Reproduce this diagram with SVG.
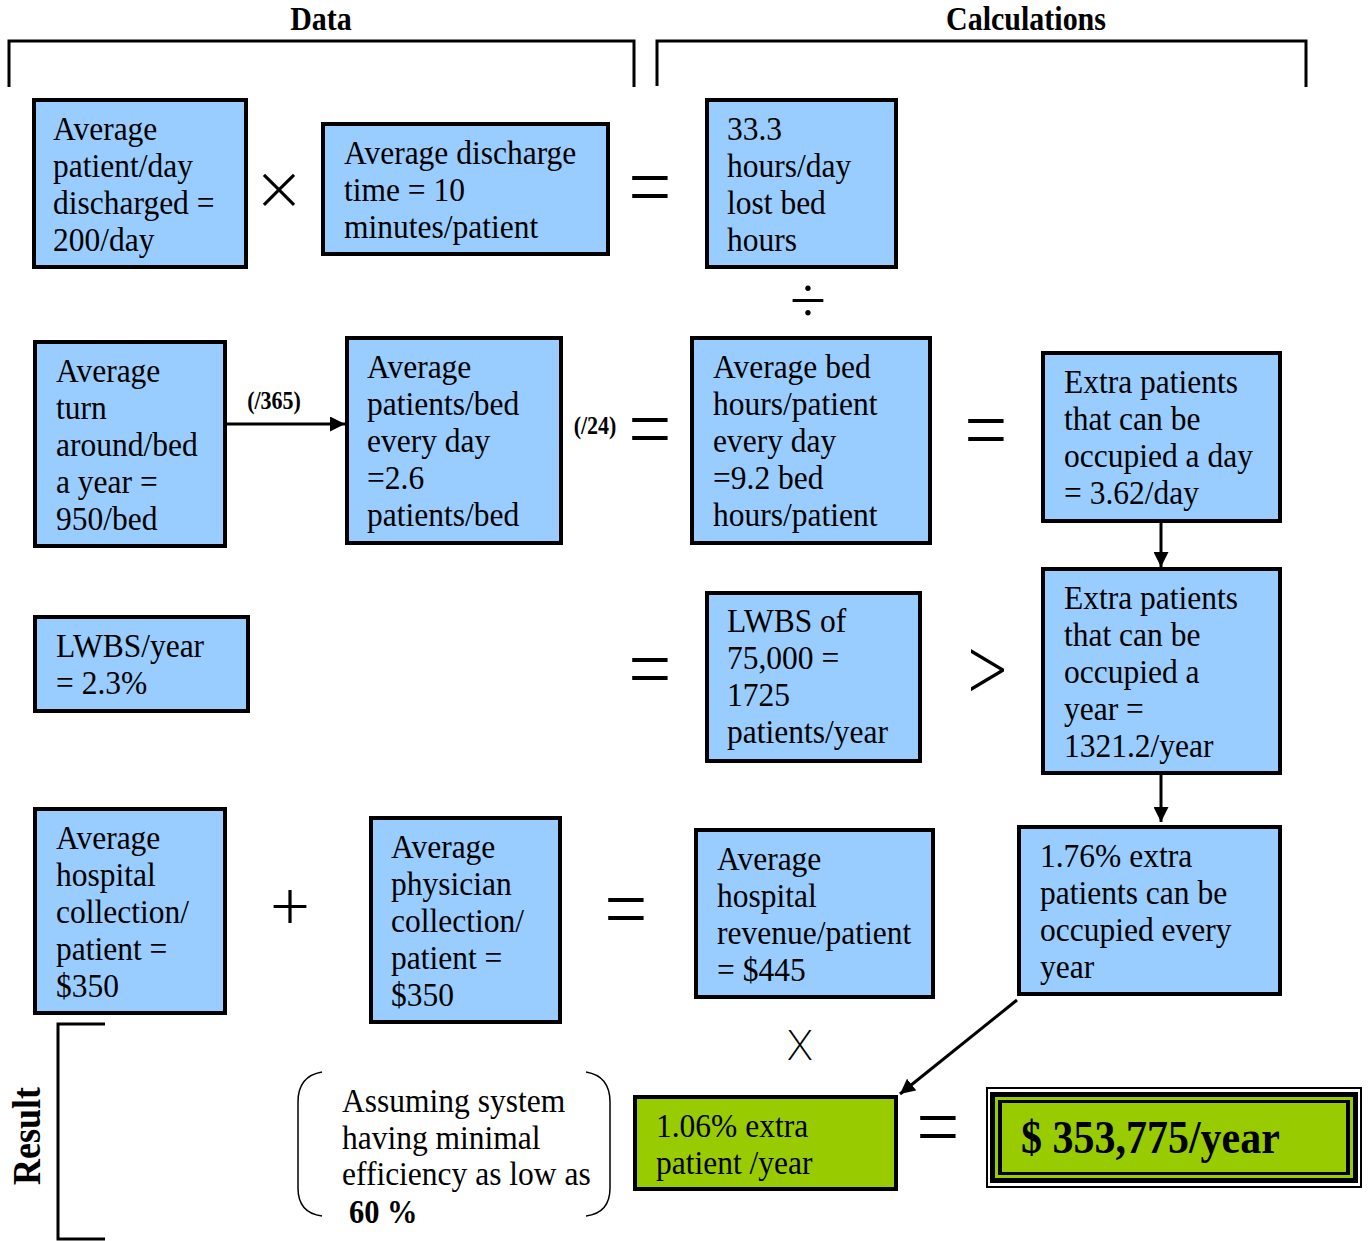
<svg xmlns="http://www.w3.org/2000/svg" width="1368" height="1241" viewBox="0 0 1368 1241">
<defs>
<style>
.box{fill:#99CCFF;stroke:#000;stroke-width:4}
.grn{fill:#99CC00;stroke:#000;stroke-width:4}
.t{font-family:"Liberation Serif","Times New Roman",serif;font-size:31.5px;fill:#000}
.b{font-family:"Liberation Serif","Times New Roman",serif;font-weight:bold;fill:#000}
.op{font-family:Inter,Roboto,"DejaVu Sans",sans-serif;font-weight:200;fill:#000;text-anchor:middle;dominant-baseline:central}
.eq{font-size:95px}
.br{fill:none;stroke:#000;stroke-width:3}
.conn{fill:none;stroke:#000;stroke-width:3}
</style>
<marker id="ah" viewBox="0 0 10 10" refX="10" refY="5" markerWidth="5" markerHeight="5" markerUnits="strokeWidth" orient="auto">
<path d="M0,0 L10,5 L0,10 z" fill="#000"/>
</marker>
</defs>
<rect width="1368" height="1241" fill="#fff"/>

<g id="headers">
<path class="br" d="M9 87 V41 H634 V87"/>
<path class="br" d="M657 86 V41 H1306 V87"/>
<text class="b" font-size="30" text-anchor="middle" transform="translate(321,30) scale(1,1.1)">Data</text>
<text class="b" font-size="30" text-anchor="middle" transform="translate(1026,30) scale(1,1.1)">Calculations</text>
</g>

<g id="n-discharged">
<rect class="box" x="34" y="100" width="212" height="167"/>
<text class="t" transform="translate(53,140) scale(1,1.1)"><tspan x="0">Average</tspan><tspan x="0" dy="33.64">patient/day</tspan><tspan x="0" dy="33.64">discharged =</tspan><tspan x="0" dy="33.64">200/day</tspan></text>
</g>

<g id="n-dischargetime">
<rect class="box" x="323" y="124" width="285" height="130"/>
<text class="t" transform="translate(344,164) scale(1,1.1)"><tspan x="0">Average discharge</tspan><tspan x="0" dy="33.64">time = 10</tspan><tspan x="0" dy="33.64">minutes/patient</tspan></text>
</g>

<g id="n-losthours">
<rect class="box" x="707" y="100" width="189" height="167"/>
<text class="t" transform="translate(727,140) scale(1,1.1)"><tspan x="0">33.3</tspan><tspan x="0" dy="33.64">hours/day</tspan><tspan x="0" dy="33.64">lost bed</tspan><tspan x="0" dy="33.64">hours</tspan></text>
</g>

<g id="n-turnaround">
<rect class="box" x="35" y="342" width="190" height="204"/>
<text class="t" transform="translate(56,382) scale(1,1.1)"><tspan x="0">Average</tspan><tspan x="0" dy="33.64">turn</tspan><tspan x="0" dy="33.64">around/bed</tspan><tspan x="0" dy="33.64">a year =</tspan><tspan x="0" dy="33.64">950/bed</tspan></text>
</g>

<g id="n-patientsbed">
<rect class="box" x="347" y="338" width="214" height="205"/>
<text class="t" transform="translate(367,378) scale(1,1.1)"><tspan x="0">Average</tspan><tspan x="0" dy="33.64">patients/bed</tspan><tspan x="0" dy="33.64">every day</tspan><tspan x="0" dy="33.64">=2.6</tspan><tspan x="0" dy="33.64">patients/bed</tspan></text>
</g>

<g id="n-bedhours">
<rect class="box" x="692" y="338" width="238" height="205"/>
<text class="t" transform="translate(713,378) scale(1,1.1)"><tspan x="0">Average bed</tspan><tspan x="0" dy="33.64">hours/patient</tspan><tspan x="0" dy="33.64">every day</tspan><tspan x="0" dy="33.64">=9.2 bed</tspan><tspan x="0" dy="33.64">hours/patient</tspan></text>
</g>

<g id="n-extraday">
<rect class="box" x="1043" y="353" width="237" height="168"/>
<text class="t" transform="translate(1064,393) scale(1,1.1)"><tspan x="0">Extra patients</tspan><tspan x="0" dy="33.64">that can be</tspan><tspan x="0" dy="33.64">occupied a day</tspan><tspan x="0" dy="33.64">= 3.62/day</tspan></text>
</g>

<g id="n-lwbsyear">
<rect class="box" x="35" y="617" width="213" height="94"/>
<text class="t" transform="translate(56,657) scale(1,1.1)"><tspan x="0">LWBS/year</tspan><tspan x="0" dy="33.64">= 2.3%</tspan></text>
</g>

<g id="n-lwbs">
<rect class="box" x="707" y="593" width="213" height="168"/>
<text class="t" transform="translate(727,632) scale(1,1.1)"><tspan x="0">LWBS of</tspan><tspan x="0" dy="33.64">75,000 =</tspan><tspan x="0" dy="33.64">1725</tspan><tspan x="0" dy="33.64">patients/year</tspan></text>
</g>

<g id="n-extrayear">
<rect class="box" x="1043" y="569" width="237" height="204"/>
<text class="t" transform="translate(1064,609) scale(1,1.1)"><tspan x="0">Extra patients</tspan><tspan x="0" dy="33.64">that can be</tspan><tspan x="0" dy="33.64">occupied a</tspan><tspan x="0" dy="33.64">year =</tspan><tspan x="0" dy="33.64">1321.2/year</tspan></text>
</g>

<g id="n-hospcoll">
<rect class="box" x="35" y="809" width="190" height="204"/>
<text class="t" transform="translate(56,849) scale(1,1.1)"><tspan x="0">Average</tspan><tspan x="0" dy="33.64">hospital</tspan><tspan x="0" dy="33.64">collection/</tspan><tspan x="0" dy="33.64">patient =</tspan><tspan x="0" dy="33.64">$350</tspan></text>
</g>

<g id="n-physcoll">
<rect class="box" x="371" y="818" width="189" height="204"/>
<text class="t" transform="translate(391,858) scale(1,1.1)"><tspan x="0">Average</tspan><tspan x="0" dy="33.64">physician</tspan><tspan x="0" dy="33.64">collection/</tspan><tspan x="0" dy="33.64">patient =</tspan><tspan x="0" dy="33.64">$350</tspan></text>
</g>

<g id="n-revenue">
<rect class="box" x="696" y="830" width="237" height="167"/>
<text class="t" transform="translate(717,870) scale(1,1.1)"><tspan x="0">Average</tspan><tspan x="0" dy="33.64">hospital</tspan><tspan x="0" dy="33.64">revenue/patient</tspan><tspan x="0" dy="33.64">= $445</tspan></text>
</g>

<g id="n-extrapct">
<rect class="box" x="1019" y="827" width="261" height="167"/>
<text class="t" transform="translate(1040,867) scale(1,1.1)"><tspan x="0">1.76% extra</tspan><tspan x="0" dy="33.64">patients can be</tspan><tspan x="0" dy="33.64">occupied every</tspan><tspan x="0" dy="33.64">year</tspan></text>
</g>

<g id="n-assumption">
<path d="M322 1072 Q298 1076 298 1102 L298 1188 Q298 1213 322 1216" fill="none" stroke="#000" stroke-width="1.5"/>
<path d="M586 1072 Q610 1076 610 1102 L610 1188 Q610 1213 586 1216" fill="none" stroke="#000" stroke-width="1.5"/>
<text class="t" transform="translate(342,1112) scale(1,1.1)"><tspan x="0">Assuming system</tspan><tspan x="0" dy="33.2">having minimal</tspan><tspan x="0" dy="33.2">efficiency as low as</tspan></text>
<text class="b" font-size="30.5" transform="translate(349,1223) scale(1,1.1)">60 %</text>
</g>

<g id="n-result1">
<rect class="grn" x="635" y="1097" width="261" height="92"/>
<text class="t" transform="translate(656,1137) scale(1,1.1)"><tspan x="0">1.06% extra</tspan><tspan x="0" dy="33.64">patient /year</tspan></text>
</g>

<g id="n-final">
<rect x="987" y="1088" width="374" height="99" fill="#fff" stroke="#000" stroke-width="2"/>
<rect x="990" y="1092" width="368" height="91" fill="#000"/>
<rect x="995" y="1097" width="358" height="81" fill="#99CC00"/>
<rect x="998" y="1100" width="352" height="75" fill="#000"/>
<rect x="1002" y="1103" width="344" height="69" fill="#99CC00"/>
<text class="b" font-size="42" transform="translate(1021,1153) scale(1,1.1)">$ 353,775/year</text>
</g>

<g id="result-bracket">
<path class="br" d="M105 1024 H58 V1239 H105"/>
<text class="b" font-size="36" text-anchor="middle" transform="translate(40,1136) rotate(-90) scale(1,1.1)">Result</text>
</g>

<g id="operators">
<text class="op" x="279" y="183" font-size="75">×</text>
<text class="op eq" x="650" y="179">=</text>
<text class="op" x="808" y="294" font-size="72">÷</text>
<text class="op eq" x="650" y="421">=</text>
<text class="op eq" x="986" y="422">=</text>
<text class="op eq" x="650" y="661">=</text>
<text class="op" x="986" y="663" font-size="80">&gt;</text>
<text class="op" x="290" y="900" font-size="76">+</text>
<text class="op eq" x="626" y="901">=</text>
<text class="op" x="800" y="1045" font-size="41">X</text>
<text class="op eq" x="938" y="1119">=</text>
</g>

<g id="connectors">
<line class="conn" x1="227" y1="424" x2="345" y2="424" marker-end="url(#ah)"/>
<text class="b" font-size="22" text-anchor="middle" transform="translate(274,409) scale(1,1.1)">(/365)</text>
<text class="b" font-size="22" text-anchor="middle" transform="translate(595,434) scale(1,1.1)">(/24)</text>
<line class="conn" x1="1161" y1="523" x2="1161" y2="567" marker-end="url(#ah)"/>
<line class="conn" x1="1161" y1="775" x2="1161" y2="822" marker-end="url(#ah)"/>
<line class="conn" x1="1017" y1="1000" x2="900" y2="1094" marker-end="url(#ah)"/>
</g>
</svg>
